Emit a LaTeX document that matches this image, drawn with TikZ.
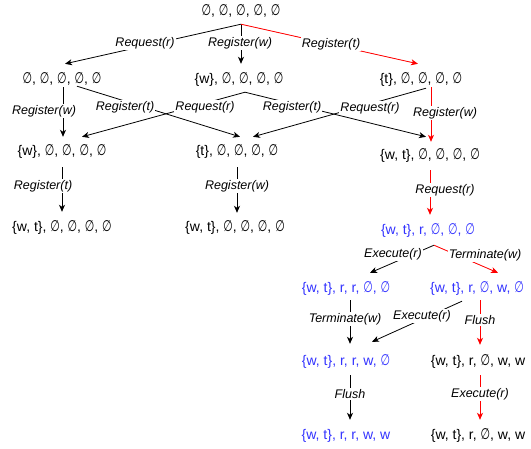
\documentclass[tikz,border=0pt]{standalone}
\usepackage{fontspec}
\usepackage{graphicx}
\setmainfont{Liberation Sans}
\newfontfamily\djv{DejaVu Sans}
\usetikzlibrary{arrows.meta}
\definecolor{blu}{RGB}{51,51,255}
\newcommand\es{\scalebox{0.78}[1.1]{\djv ∅}}
\begin{document}
\begin{tikzpicture}[x=1pt,y=-1pt,
  st/.style={inner sep=0pt, text height=10pt, text depth=3pt, font=\fontsize{14}{16}\selectfont},
  bl/.style={st, text=blu},
  lb/.style={fill=white, inner sep=1pt, font=\fontsize{12.5}{14}\selectfont\itshape},
  ar/.style={-{Stealth[length=7pt,width=6pt,inset=2pt]}, line width=0.8pt},
  rd/.style={ar, draw=red, fill=red}]
\useasboundingbox (0,0) rectangle (531,448);
% states
\node[st] (r0) at (241,12) {\es, \es, \es, \es, \es};
\node[st] (a1) at (62,80) {\es, \es, \es, \es, \es};
\node[st] (a2) at (239,80) {\{w\}, \es, \es, \es, \es};
\node[st] (a3) at (421,80) {\{t\}, \es, \es, \es, \es};
\node[st] (b1) at (62,152) {\{w\}, \es, \es, \es, \es};
\node[st] (b2) at (237,152) {\{t\}, \es, \es, \es, \es};
\node[st] (b3) at (430,156) {\{w, t\}, \es, \es, \es, \es};
\node[st] (c1) at (62,228) {\{w, t\}, \es, \es, \es, \es};
\node[st] (c2) at (235,228) {\{w, t\}, \es, \es, \es, \es};
\node[bl] (c3) at (428,231) {\{w, t\}, r, \es, \es, \es};
\node[bl] (d1) at (346,289) {\{w, t\}, r, r, \es, \es};
\node[bl] (d2) at (477,289) {\{w, t\}, r, \es, w, \es};
\node[bl] (e1) at (346,362) {\{w, t\}, r, r, w, \es};
\node[st] (e2) at (478,362) {\{w, t\}, r, \es, w, w};
\node[bl] (f1) at (346,436) {\{w, t\}, r, r, w, w};
\node[st] (f2) at (478,436) {\{w, t\}, r, \es, w, w};
% edges
\draw[ar] ([shift={(0,5.5)}]r0.south) -- ([shift={(3,-9.5)}]a1.north);
\draw[ar] ([shift={(0,5.5)}]r0.south) -- ([shift={(2,-9.5)}]a2.north);
\draw[rd] ([shift={(0,5.5)}]r0.south) -- ([shift={(-3,-9.5)}]a3.north);
\draw[ar] ([shift={(1,0.5)}]a1.south) -- ([shift={(1,-8.5)}]b1.north);
\draw[ar] ([shift={(15,-0.5)}]a1.south) -- ([shift={(3,-8.5)}]b2.north);
\draw[ar] ([shift={(6,5.5)}]a2.south) -- ([shift={(20,-8.5)}]b1.north);
\draw[ar] ([shift={(6,5.5)}]a2.south) -- ([shift={(-4,-12.5)}]b3.north);
\draw[ar] ([shift={(5,1.5)}]a3.south) -- ([shift={(16,-8.5)}]b2.north);
\draw[rd] ([shift={(10,0.5)}]a3.south) -- ([shift={(1,-7.5)}]b3.north);
\draw[ar] ([shift={(0,8.5)}]b1.south) -- ([shift={(0,-9.5)}]c1.north);
\draw[ar] ([shift={(0,8.5)}]b2.south) -- ([shift={(2,-8.5)}]c2.north);
\draw[rd] ([shift={(0,7.5)}]b3.south) -- ([shift={(2,-9.5)}]c3.north);
\draw[ar] ([shift={(6,7.5)}]c3.south) -- ([shift={(24,-9.5)}]d1.north);
\draw[rd] ([shift={(6,7.5)}]c3.south) -- ([shift={(21,-9.5)}]d2.north);
\draw[ar] ([shift={(4,4.5)}]d1.south) -- ([shift={(4,-11.5)}]e1.north);
\draw[ar] ([shift={(-15,5.5)}]d2.south) -- ([shift={(26,-13.5)}]e1.north);
\draw[rd] ([shift={(3,4.5)}]d2.south) -- ([shift={(2,-10.5)}]e2.north);
\draw[ar] ([shift={(4,6.5)}]e1.south) -- ([shift={(4,-9.5)}]f1.north);
\draw[rd] ([shift={(2,6.5)}]e2.south) -- ([shift={(2,-9.5)}]f2.north);
% labels
\node[lb] (l1) at (145,43) {Request(r)};
\node[lb] (l2) at (240,43) {Register(w)};
\node[lb] (l3) at (331,44) {Register(t)};
\node[lb] (l4) at (44,111) {Register(w)};
\node[lb] (l5) at (125,107) {Register(t)};
\node[lb] (l6) at (205,107) {Request(r)};
\node[lb] (l7) at (292,107) {Register(t)};
\node[lb] (l8) at (370,108) {Request(r)};
\node[lb] (l9) at (445,113) {Register(w)};
\node[lb] (l10) at (43,186) {Register(t)};
\node[lb] (l11) at (237,186) {Register(w)};
\node[lb] (l12) at (445,190) {Request(r)};
\node[lb] (l13) at (393,254) {Execute(r)};
\node[lb] (l14) at (485,255) {Terminate(w)};
\node[lb] (l15) at (345,319) {Terminate(w)};
\node[lb] (l16) at (422,316) {Execute(r)};
\node[lb] (l17) at (480,320) {Flush};
\node[lb] (l18) at (350,394) {Flush};
\node[lb] (l19) at (480,394) {Execute(r)};
\end{tikzpicture}
\end{document}
